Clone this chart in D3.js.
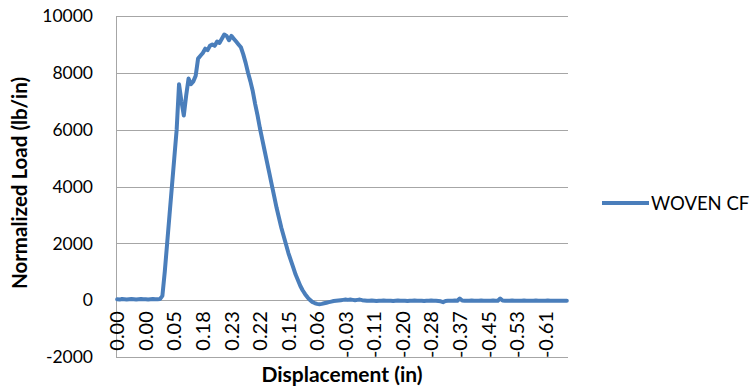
<!DOCTYPE html>
<html>
<head>
<meta charset="utf-8">
<script src="https://cdn.jsdelivr.net/npm/d3@7"></script>
<style>
  body { margin: 0; background: #fff; }
  svg { display: block; font-family: Lato, "Open Sans", sans-serif; }
</style>
</head>
<body>
<svg id="chart"></svg>
<script>
// Normalized load (lb/in), one value per recorded sample (category axis)
const load = [
    30, 20, 40, 30, 20, 30, 40, 30, 20, 30, 40, 30, 30, 20, 30, 40, 30, 30, 40,
    150, 1000, 2000, 3000, 4000, 5000, 6000, 7600, 7000, 6500, 7200, 7800,
    7600, 7700, 7900, 8500, 8600, 8700, 8850, 8800, 8950, 9000, 8950, 9100,
    9050, 9200, 9350, 9300, 9150, 9300, 9200, 9100, 9000, 8900, 8650, 8350,
    8000, 7700, 7350, 6900, 6500, 6050, 5650, 5250, 4850, 4450, 4050, 3650,
    3250, 2900, 2550, 2250, 1950, 1650, 1400, 1150, 900, 700, 500, 340,
    210, 100, 10, -60, -100, -130, -140, -130, -110, -90, -70, -50,
    -30, -20, -10, 0, 10, 20, 10, 20, 10, 0, 10, 20,
    0, -10, -20, -20, -10, -20, -30, -20, -20, -10, -20, -20,
    -20, -30, -20, -10, -20, -20, -20, -30, -20, -20, -10, -20,
    -20, -20, -30, -20, -20, -10, -20, -20, -30, -40, -70, -30,
    -20, -20, -20, -10, -20, 60, -10, -20, -20, -20, -10, -20,
    -20, -20, -10, -20, -20, -20, -20, -10, -20, -20, 60, -10,
    -20, -20, -20, -10, -20, -20, -20, -20, -10, -20, -20, -20,
    -20, -10, -20, -20, -20, -20, -10, -20, -20, -20, -20, -20,
    -20, -20, -20
];

// Displacement (in) shown under every 12th sample
const dispLabels = [0.00, 0.00, 0.05, 0.18, 0.23, 0.22, 0.15, 0.06,
    -0.03, -0.11, -0.20, -0.28, -0.37, -0.45, -0.53, -0.61];
const labelEvery = 12;

const yTicks = [-2000, 0, 2000, 4000, 6000, 8000, 10000];
const seriesName = "WOVEN CF";

const width = 751, height = 389;
const margin = { top: 16, right: 183, bottom: 32, left: 116 };
const lineColor = "#4a7ebb";
const gridColor = "#a6a6a6";

const svg = d3.select("#chart")
    .attr("width", width)
    .attr("height", height)
    .attr("viewBox", `0 0 ${width} ${height}`);

const x = d3.scaleBand()
    .domain(d3.range(load.length))
    .range([margin.left, width - margin.right]);

const y = d3.scaleLinear()
    .domain([-2000, 10000])
    .range([height - margin.bottom, margin.top]);

const cx = i => x(i) + x.bandwidth() / 2;

// Horizontal gridlines
svg.append("g")
    .selectAll("line")
    .data(yTicks)
    .join("line")
    .attr("x1", margin.left)
    .attr("x2", width - margin.right)
    .attr("y1", d => Math.round(y(d)) + 0.5)
    .attr("y2", d => Math.round(y(d)) + 0.5)
    .attr("stroke", gridColor)
    .attr("stroke-width", 1);

// Vertical value axis line
svg.append("line")
    .attr("x1", margin.left + 0.5)
    .attr("x2", margin.left + 0.5)
    .attr("y1", y(10000))
    .attr("y2", y(-2000))
    .attr("stroke", gridColor);

// Y tick labels
svg.append("g")
    .selectAll("text")
    .data(yTicks)
    .join("text")
    .attr("x", 93)
    .attr("y", d => y(d))
    .attr("dy", "0.36em")
    .attr("text-anchor", "end")
    .attr("font-size", 17.5)
    .attr("fill", "#000")
    .text(d => d);

// Category labels, rotated, sitting under the zero line
const labelIdx = dispLabels.map((d, i) => i * labelEvery);
svg.append("g")
    .selectAll("text")
    .data(labelIdx)
    .join("text")
    .attr("transform", (d, i) => `translate(${cx(d)},${y(0) + 11}) rotate(-90)`)
    .attr("dy", "0.36em")
    .attr("text-anchor", "end")
    .attr("font-size", 20)
    .attr("fill", "#000")
    .text((d, i) => dispLabels[i].toFixed(2));

// Data line
const line = d3.line()
    .x((d, i) => cx(i))
    .y(d => y(d));

svg.append("path")
    .datum(load)
    .attr("d", line)
    .attr("fill", "none")
    .attr("stroke", lineColor)
    .attr("stroke-width", 4)
    .attr("stroke-linejoin", "round")
    .attr("stroke-linecap", "round");

// Axis titles
svg.append("text")
    .attr("x", (margin.left + width - margin.right) / 2)
    .attr("y", 382)
    .attr("text-anchor", "middle")
    .attr("font-size", 21)
    .attr("font-weight", "bold")
    .text("Displacement (in)");

svg.append("text")
    .attr("transform", `translate(27,183) rotate(-90)`)
    .attr("text-anchor", "middle")
    .attr("font-size", 20.5)
    .attr("font-weight", "bold")
    .text("Normalized Load (lb/in)");

// Legend
const legend = svg.append("g").attr("transform", "translate(602,203)");
legend.append("line")
    .attr("x1", 0)
    .attr("x2", 47)
    .attr("stroke", lineColor)
    .attr("stroke-width", 4);
legend.append("text")
    .attr("x", 49)
    .attr("dy", "0.36em")
    .attr("font-size", 18.5)
    .text(seriesName);
</script>
</body>
</html>
